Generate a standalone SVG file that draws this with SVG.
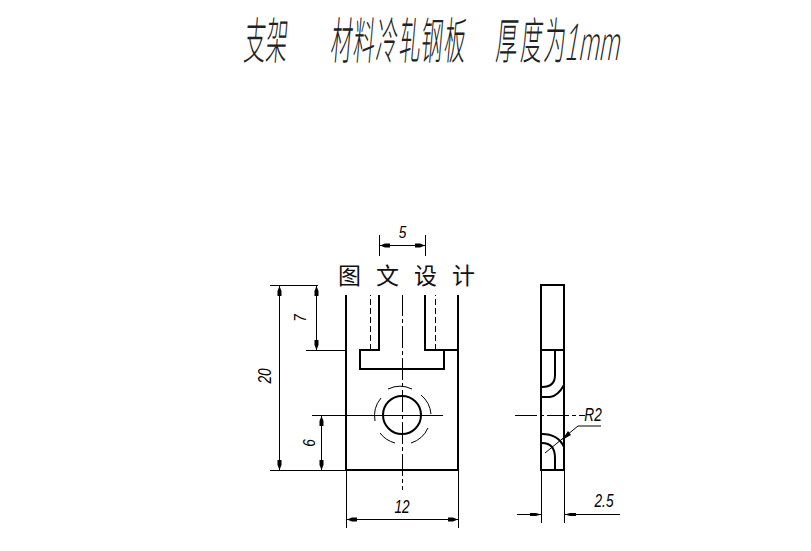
<svg xmlns="http://www.w3.org/2000/svg" width="811" height="551" viewBox="0 0 811 551">
<style>
.k{fill:none;stroke:#000;stroke-width:2;shape-rendering:crispEdges}
.c{fill:none;stroke:#000;stroke-width:2}
.t{fill:none;stroke:#000;stroke-width:1;shape-rendering:crispEdges}
.a{fill:none;stroke:#000;stroke-width:1}
.h{fill:none;stroke:#000;stroke-width:1;stroke-dasharray:6 3;shape-rendering:crispEdges}
.m{fill:none;stroke:#000;stroke-width:1;stroke-dasharray:22 3 4 3;shape-rendering:crispEdges}
.d{fill:none;stroke:#000;stroke-width:1;shape-rendering:crispEdges;marker-start:url(#ah);marker-end:url(#ah)}
.n{font-family:"Liberation Sans",sans-serif;font-style:italic;font-size:19px;fill:#000;text-anchor:middle}
.ti{font-family:"Noto Sans CJK SC","Liberation Sans",sans-serif;font-size:50px;font-weight:300;fill:#222}
.w{font-family:"Noto Sans CJK SC",sans-serif;font-size:23px;fill:#111}
</style>
<defs>
<marker id="ah" viewBox="0 0 10 6" refX="10" refY="3" markerWidth="10" markerHeight="6" markerUnits="userSpaceOnUse" orient="auto-start-reverse"><path d="M10 3L5 1L0 1L0 5L5 5Z" fill="#000"/></marker>
</defs>
<rect width="811" height="551" fill="#fff"/>
<g id="title">
<text class="ti" transform="translate(0,59) skewX(-5) scale(.43,1)" x="565 616">支架</text>
<text class="ti" transform="translate(0,59) skewX(-5) scale(.43,1)" x="767 819 872 926 977 1030">材料冷轧钢板</text>
<text class="ti" transform="translate(0,59) skewX(-5) scale(.43,1)" x="1151 1209 1263">厚度为</text>
<text transform="translate(0,60) skewX(-10) scale(.5,1)" x="1126" font-family="Lato,Liberation Sans,sans-serif" font-weight="300" font-size="51" fill="#222">1mm</text>
</g>
<g id="front-view">
<path class="k" d="M346 285V470H458V285"/>
<path class="k" d="M379 285V350H360V369H444V350H425V285M444 350H458"/>
<path class="h" d="M370.500 290V350M435.500 290V350"/>
<path class="m" d="M402.500 262V490"/>
<circle class="c" cx="402" cy="415" r="19"/>
<path class="a" d="M388 389A28 28 0 0 1 412 389M421 395A28 28 0 0 1 431 414M428 428A28 28 0 0 1 411 443M395 443A28 28 0 0 1 380 433M375 421A28 28 0 0 1 381 398"/>
</g>
<g id="side-view">
<path class="k" d="M541 285H564V470H541ZM541 350H564"/>
<path class="c" d="M555 350V375Q555 387 542 387M542 397H550Q558 396 564 385M542 434Q558 434 564 447M542 443Q555 443 555 458V470"/>
</g>
<g id="dimensions">
<path class="t" d="M379.500 235V256M425.500 235V256M270 285.500H318M306 350.500H346M312 415.500H443M270 470.500H346M346.500 471V528M458.500 471V528M541.500 471V523M564.500 471V523"/>
<path class="d" d="M380 245.500H425"/>
<path class="d" d="M279.500 286V470"/>
<path class="d" d="M316.500 286V350"/>
<path class="d" d="M321.500 416V470"/>
<path class="d" d="M347 519.500H458"/>
<path class="t" d="M517 514.500H541M564 514.500H620"/>
<path d="M541 514.500L536 513L530 513V516L536 516ZM565 514.500L570 513L576 513V516L570 516Z" fill="#000"/>
<path class="m" d="M515 415.500H585"/>
<path class="a" d="M545 453L578 426H601"/>
<path d="M562 440L568 431L571 435Z" fill="#000"/>
<text class="n" transform="translate(402.500,238) scale(.72,.9)">5</text>
<text class="n" transform="translate(271,376) rotate(-90) scale(.72,.95)">20</text>
<text class="n" transform="translate(306,318) rotate(-90) scale(.72,.9)">7</text>
<text class="n" transform="translate(315,443) rotate(-90) scale(.72,.9)">6</text>
<text class="n" transform="translate(402,513) scale(.72,.98)">12</text>
<text class="n" transform="translate(593,421) scale(.72,.98)">R2</text>
<text class="n" transform="translate(604,507) scale(.72,.98)">2.5</text>
</g>
<g id="watermark">
<rect x="336" y="256" width="145" height="39" fill="#fff"/>
<text class="w" x="338" y="284">图</text>
<text class="w" x="376" y="284">文</text>
<text class="w" x="414" y="284">设</text>
<text class="w" x="452" y="284">计</text>
</g>
</svg>
